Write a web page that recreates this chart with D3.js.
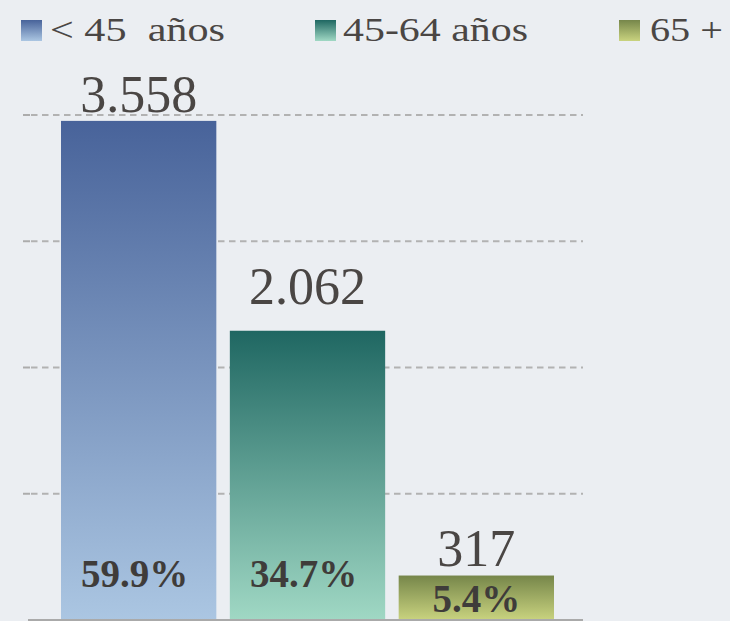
<!DOCTYPE html>
<html>
<head>
<meta charset="utf-8">
<script src="https://cdn.jsdelivr.net/npm/d3@7"></script>
<style>
html,body{margin:0;padding:0;background:#ebeef2;overflow:hidden;}
svg{display:block;}
</style>
</head>
<body>
<svg id="chart" width="730" height="621"></svg>
<script>
const categories = ["< 45  años", "45-64 años", "65 +"];
const values = [3558, 2062, 317];
const valueLabels = ["3.558", "2.062", "317"];
const percentLabels = ["59.9%", "34.7%", "5.4%"];
const gridTicks = [900, 1800, 2700, 3600];
const colorsTop = ["#48639a", "#1f6762", "#76864a"];
const colorsBottom = ["#abc6e2", "#a0d8c4", "#c9d37f"];

const W = 730, H = 621;
const svg = d3.select("#chart");
const serif = "'Liberation Serif', 'DejaVu Serif', serif";
const textColor = "#4a4644";

svg.append("rect").attr("width", W).attr("height", H).attr("fill", "#ebeef2");

const defs = svg.append("defs");
categories.forEach((c, i) => {
  const g = defs.append("linearGradient").attr("id", "grad" + i)
    .attr("x1", 0).attr("y1", 0).attr("x2", 0).attr("y2", 1);
  g.append("stop").attr("offset", "0%").attr("stop-color", colorsTop[i]);
  g.append("stop").attr("offset", "100%").attr("stop-color", colorsBottom[i]);
});

const x = d3.scaleBand().domain(categories).range([61, 554]).paddingInner(0.08).paddingOuter(0);
const y = d3.scaleLinear().domain([0, 3600]).range([620, 115]);

// gridlines
const grid = svg.append("g");
gridTicks.forEach(t => {
  grid.append("line").attr("x1", 23).attr("x2", 30).attr("y1", y(t)).attr("y2", y(t))
    .attr("stroke", "#acacac").attr("stroke-width", 2);
  grid.append("line").attr("x1", 31).attr("x2", 583).attr("y1", y(t)).attr("y2", y(t))
    .attr("stroke", "#b2b2b2").attr("stroke-width", 2.2).attr("stroke-dasharray", "6.5,4.5");
});

// bars
svg.append("g").selectAll("rect").data(categories).join("rect")
  .attr("x", d => x(d))
  .attr("y", (d, i) => y(values[i]))
  .attr("width", x.bandwidth())
  .attr("height", (d, i) => y(0) - y(values[i]))
  .attr("fill", (d, i) => `url(#grad${i})`);

// baseline
svg.append("line").attr("x1", 28).attr("x2", 583).attr("y1", 620).attr("y2", 620)
  .attr("stroke", "#aaaaaa").attr("stroke-width", 2);

// value labels
const labelGap = [9, 27, 10];
svg.append("g").selectAll("text").data(categories).join("text")
  .attr("x", d => x(d) + x.bandwidth() / 2)
  .attr("y", (d, i) => y(values[i]) - labelGap[i])
  .attr("text-anchor", "middle")
  .attr("font-family", serif)
  .attr("font-size", 52)
  .attr("fill", textColor)
  .text((d, i) => valueLabels[i]);

// percent labels
const pctBase = [587, 587, 612];
svg.append("g").selectAll("text").data(categories).join("text")
  .attr("x", (d, i) => x(d) + x.bandwidth() / 2 - (i < 2 ? 4 : 0))
  .attr("y", (d, i) => pctBase[i])
  .attr("text-anchor", "middle")
  .attr("font-family", serif)
  .attr("font-weight", "bold")
  .attr("font-size", 39)
  .attr("fill", "#3f3c3a")
  .text((d, i) => percentLabels[i]);

// legend
const legendSquareX = [21, 315, 619];
const legendTextX = [50, 343, 650];
const legendTextW = [175, 185, 73];
const legend = svg.append("g");
categories.forEach((c, i) => {
  legend.append("rect").attr("x", legendSquareX[i]).attr("y", 20).attr("width", 21).attr("height", 21)
    .attr("fill", `url(#grad${i})`);
  legend.append("text").attr("x", legendTextX[i]).attr("y", 41)
    .attr("font-family", serif).attr("font-size", 33).attr("fill", textColor)
    .attr("textLength", legendTextW[i]).attr("lengthAdjust", "spacingAndGlyphs")
    .style("white-space", "pre")
    .text(c);
});
</script>
</body>
</html>
